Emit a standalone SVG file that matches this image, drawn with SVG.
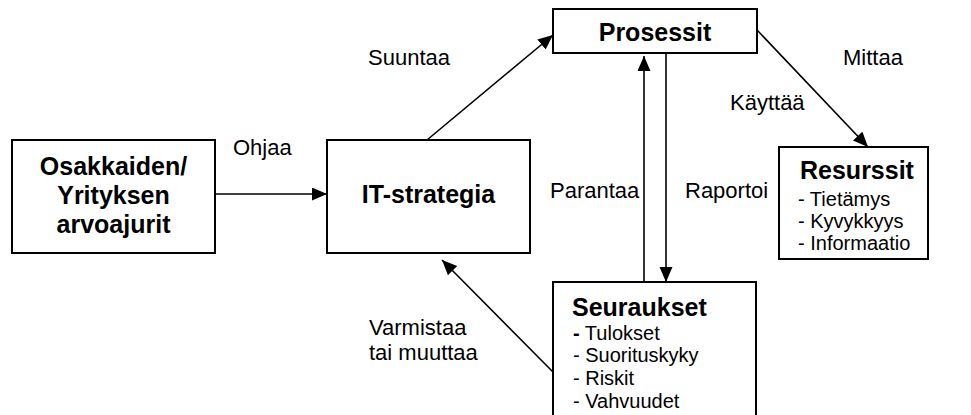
<svg xmlns="http://www.w3.org/2000/svg" width="971" height="415" viewBox="0 0 971 415">
  <style>
    .box { fill: #fff; stroke: #000; stroke-width: 2; }
    .title { font-family: "Liberation Sans", Arial, sans-serif; font-weight: bold; font-size: 25px; fill: #000; }
    .item { font-family: "Liberation Sans", Arial, sans-serif; font-size: 20px; fill: #000; }
    .label { font-family: "Liberation Sans", Arial, sans-serif; font-size: 22px; fill: #000; }
    .edge { fill: none; stroke: #000; stroke-width: 1.6; }
    .arrow { marker-end: url(#head); }
  </style>
  <defs>
    <marker id="head" markerUnits="userSpaceOnUse" markerWidth="16" markerHeight="14" refX="15" refY="6.5" orient="auto">
      <path d="M0,0 L15,6.5 L0,13 Z" fill="#000"/>
    </marker>
  </defs>

  <!-- connectors -->
  <g id="connectors">
    <line class="edge arrow" x1="215" y1="194" x2="327" y2="194"/>
    <line class="edge arrow" x1="427" y1="140" x2="553" y2="35"/>
    <line class="edge arrow" x1="757" y1="30" x2="868" y2="147"/>
    <line class="edge arrow" x1="644" y1="282" x2="644" y2="56"/>
    <line class="edge arrow" x1="666" y1="53" x2="666" y2="282"/>
    <line class="edge arrow" x1="553" y1="372" x2="442" y2="260"/>
    <text class="label" x="233" y="155">Ohjaa</text>
    <text class="label" x="368" y="65">Suuntaa</text>
    <text class="label" x="843" y="65">Mittaa</text>
    <text class="label" x="730" y="110">Käyttää</text>
    <text class="label" x="550" y="198">Parantaa</text>
    <text class="label" x="685" y="198">Raportoi</text>
    <text class="label" x="369" y="335">Varmistaa</text>
    <text class="label" x="369" y="360">tai muuttaa</text>
  </g>

  <g id="node-arvoajurit">
    <rect class="box" x="12" y="140" width="203" height="113"/>
    <text class="title" text-anchor="middle" x="113.5" y="175">Osakkaiden/</text>
    <text class="title" text-anchor="middle" x="113.5" y="204">Yrityksen</text>
    <text class="title" text-anchor="middle" x="113.5" y="233">arvoajurit</text>
  </g>

  <g id="node-it-strategia">
    <rect class="box" x="327" y="140" width="203" height="113"/>
    <text class="title" text-anchor="middle" x="428.5" y="203">IT-strategia</text>
  </g>

  <g id="node-prosessit">
    <rect class="box" x="553" y="9" width="204" height="44"/>
    <text class="title" text-anchor="middle" x="655" y="41">Prosessit</text>
  </g>

  <g id="node-resurssit">
    <rect class="box" x="779" y="147" width="149" height="112"/>
    <text class="title" x="800" y="179">Resurssit</text>
    <text class="item" x="798" y="206">- Tietämys</text>
    <text class="item" x="798" y="228">- Kyvykkyys</text>
    <text class="item" x="798" y="250">- Informaatio</text>
  </g>

  <g id="node-seuraukset">
    <rect class="box" x="553" y="282" width="203" height="150"/>
    <text class="title" x="572" y="316">Seuraukset</text>
    <text class="item" x="573" y="340"><tspan font-weight="bold">-</tspan> Tulokset</text>
    <text class="item" x="573" y="362">- Suorituskyky</text>
    <text class="item" x="573" y="385">- Riskit</text>
    <text class="item" x="573" y="408">- Vahvuudet</text>
  </g>
</svg>
